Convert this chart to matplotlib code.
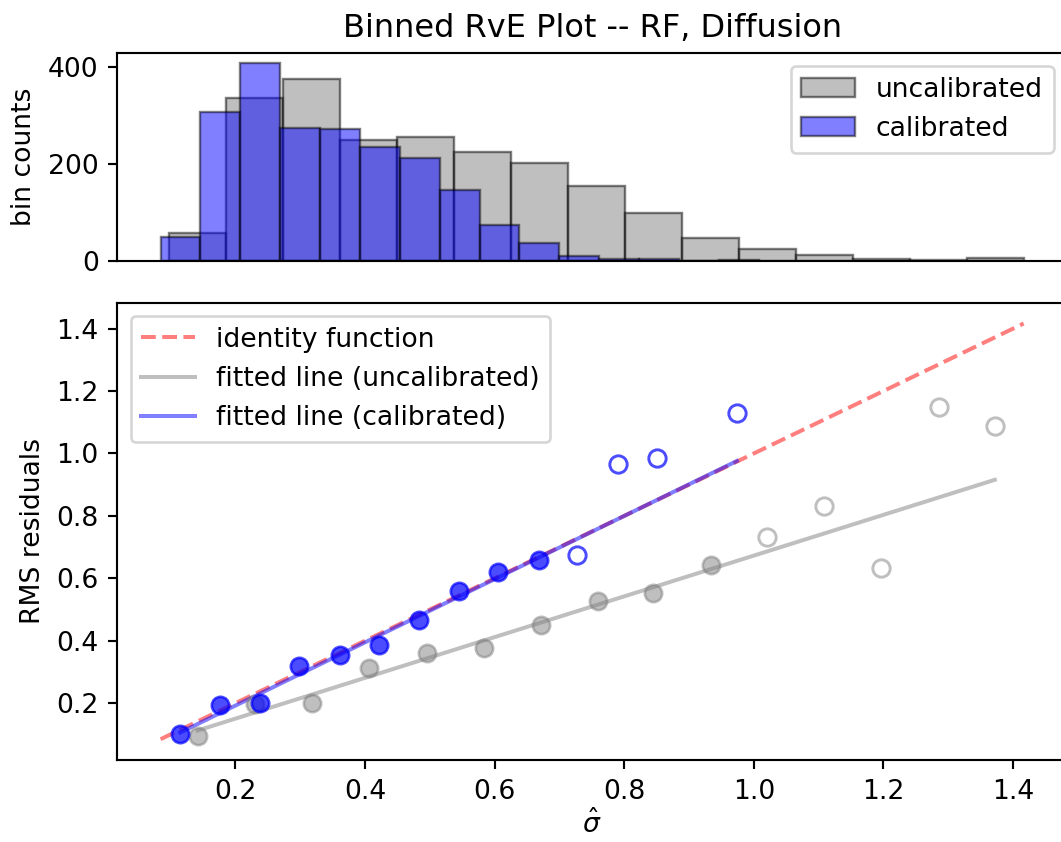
import numpy as np
import matplotlib
matplotlib.use("Agg")
import matplotlib.pyplot as plt

# histogram bins (15 bins each)
uncal_edges = np.linspace(0.098, 1.4165, 16)
uncal_counts = [57, 336, 377, 250, 256, 224, 202, 155, 98, 46, 24, 12, 3, 2, 5]
cal_edges = np.linspace(0.0847, 1.0077, 16)
cal_counts = [48, 308, 410, 275, 273, 235, 213, 146, 74, 37, 10, 4, 3, 0, 2]

# binned RMS residuals vs mean sigma-hat
uncal_x = [0.142, 0.230, 0.318, 0.406, 0.495, 0.583, 0.671, 0.759, 0.845, 0.934,
           1.021, 1.109, 1.197, 1.286, 1.372]
uncal_y = [0.094, 0.197, 0.200, 0.313, 0.361, 0.377, 0.452, 0.526, 0.552, 0.642,
           0.732, 0.832, 0.632, 1.148, 1.087]
cal_x = [0.115, 0.176, 0.238, 0.298, 0.361, 0.421, 0.483, 0.545, 0.606, 0.668,
         0.728, 0.790, 0.851, 0.974]
cal_y = [0.100, 0.194, 0.200, 0.319, 0.355, 0.387, 0.468, 0.558, 0.619, 0.658,
         0.674, 0.965, 0.984, 1.129]
# bins with enough samples are drawn filled and used for the fit
uncal_n_filled = 10
cal_n_filled = 10

DPI = 192
fig = plt.figure(figsize=(1061 / DPI, 842 / DPI), dpi=DPI)
ax1 = fig.add_axes([0.1107, 0.6906, 0.8948, 0.2468])
ax2 = fig.add_axes([0.1107, 0.0974, 0.8948, 0.5431], sharex=ax1)

ax1.hist(uncal_edges[:-1], bins=uncal_edges, weights=uncal_counts, color="gray",
         alpha=0.5, edgecolor="k", linewidth=0.9, label="uncalibrated")
ax1.hist(cal_edges[:-1], bins=cal_edges, weights=cal_counts, color="blue",
         alpha=0.5, edgecolor="k", linewidth=0.9, label="calibrated")
ax1.set_ylabel("bin counts")
ax1.set_title("Binned RvE Plot -- RF, Diffusion")
ax1.legend(loc="upper right")
ax1.tick_params(axis="x", bottom=False, labelbottom=False)

lo = min(uncal_edges[0], cal_edges[0])
hi = max(uncal_edges[-1], cal_edges[-1])
ax2.plot([lo, hi], [lo, hi], "--", color="red", alpha=0.5, lw=1.5,
         label="identity function")

ux, uy = np.array(uncal_x), np.array(uncal_y)
cx, cy = np.array(cal_x), np.array(cal_y)
pu = np.polyfit(ux[:uncal_n_filled], uy[:uncal_n_filled], 1)
pc = np.polyfit(cx[:cal_n_filled], cy[:cal_n_filled], 1)
xu = np.array([ux.min(), ux.max()])
xc = np.array([cx.min(), cx.max()])
ax2.plot(xu, np.polyval(pu, xu), color="gray", alpha=0.5, lw=1.5,
         label="fitted line (uncalibrated)")
ax2.plot(xc, np.polyval(pc, xc), color="blue", alpha=0.5, lw=1.5,
         label="fitted line (calibrated)")

ax2.plot(ux[:uncal_n_filled], uy[:uncal_n_filled], "o", color="gray", alpha=0.5, ms=6.5)
ax2.plot(ux[uncal_n_filled:], uy[uncal_n_filled:], "o", mfc="none", mec="gray",
         alpha=0.5, ms=6.5, mew=1.1)
ax2.plot(cx[:cal_n_filled], cy[:cal_n_filled], "o", color="blue", alpha=0.7, ms=6.5)
ax2.plot(cx[cal_n_filled:], cy[cal_n_filled:], "o", mfc="none", mec="blue",
         alpha=0.7, ms=6.5, mew=1.1)

ax2.set_xlabel(r"$\hat{\sigma}$", labelpad=2)
ax2.set_ylabel("RMS residuals")
ax2.legend(loc="upper left")

fig.savefig("out.png", dpi=DPI)
